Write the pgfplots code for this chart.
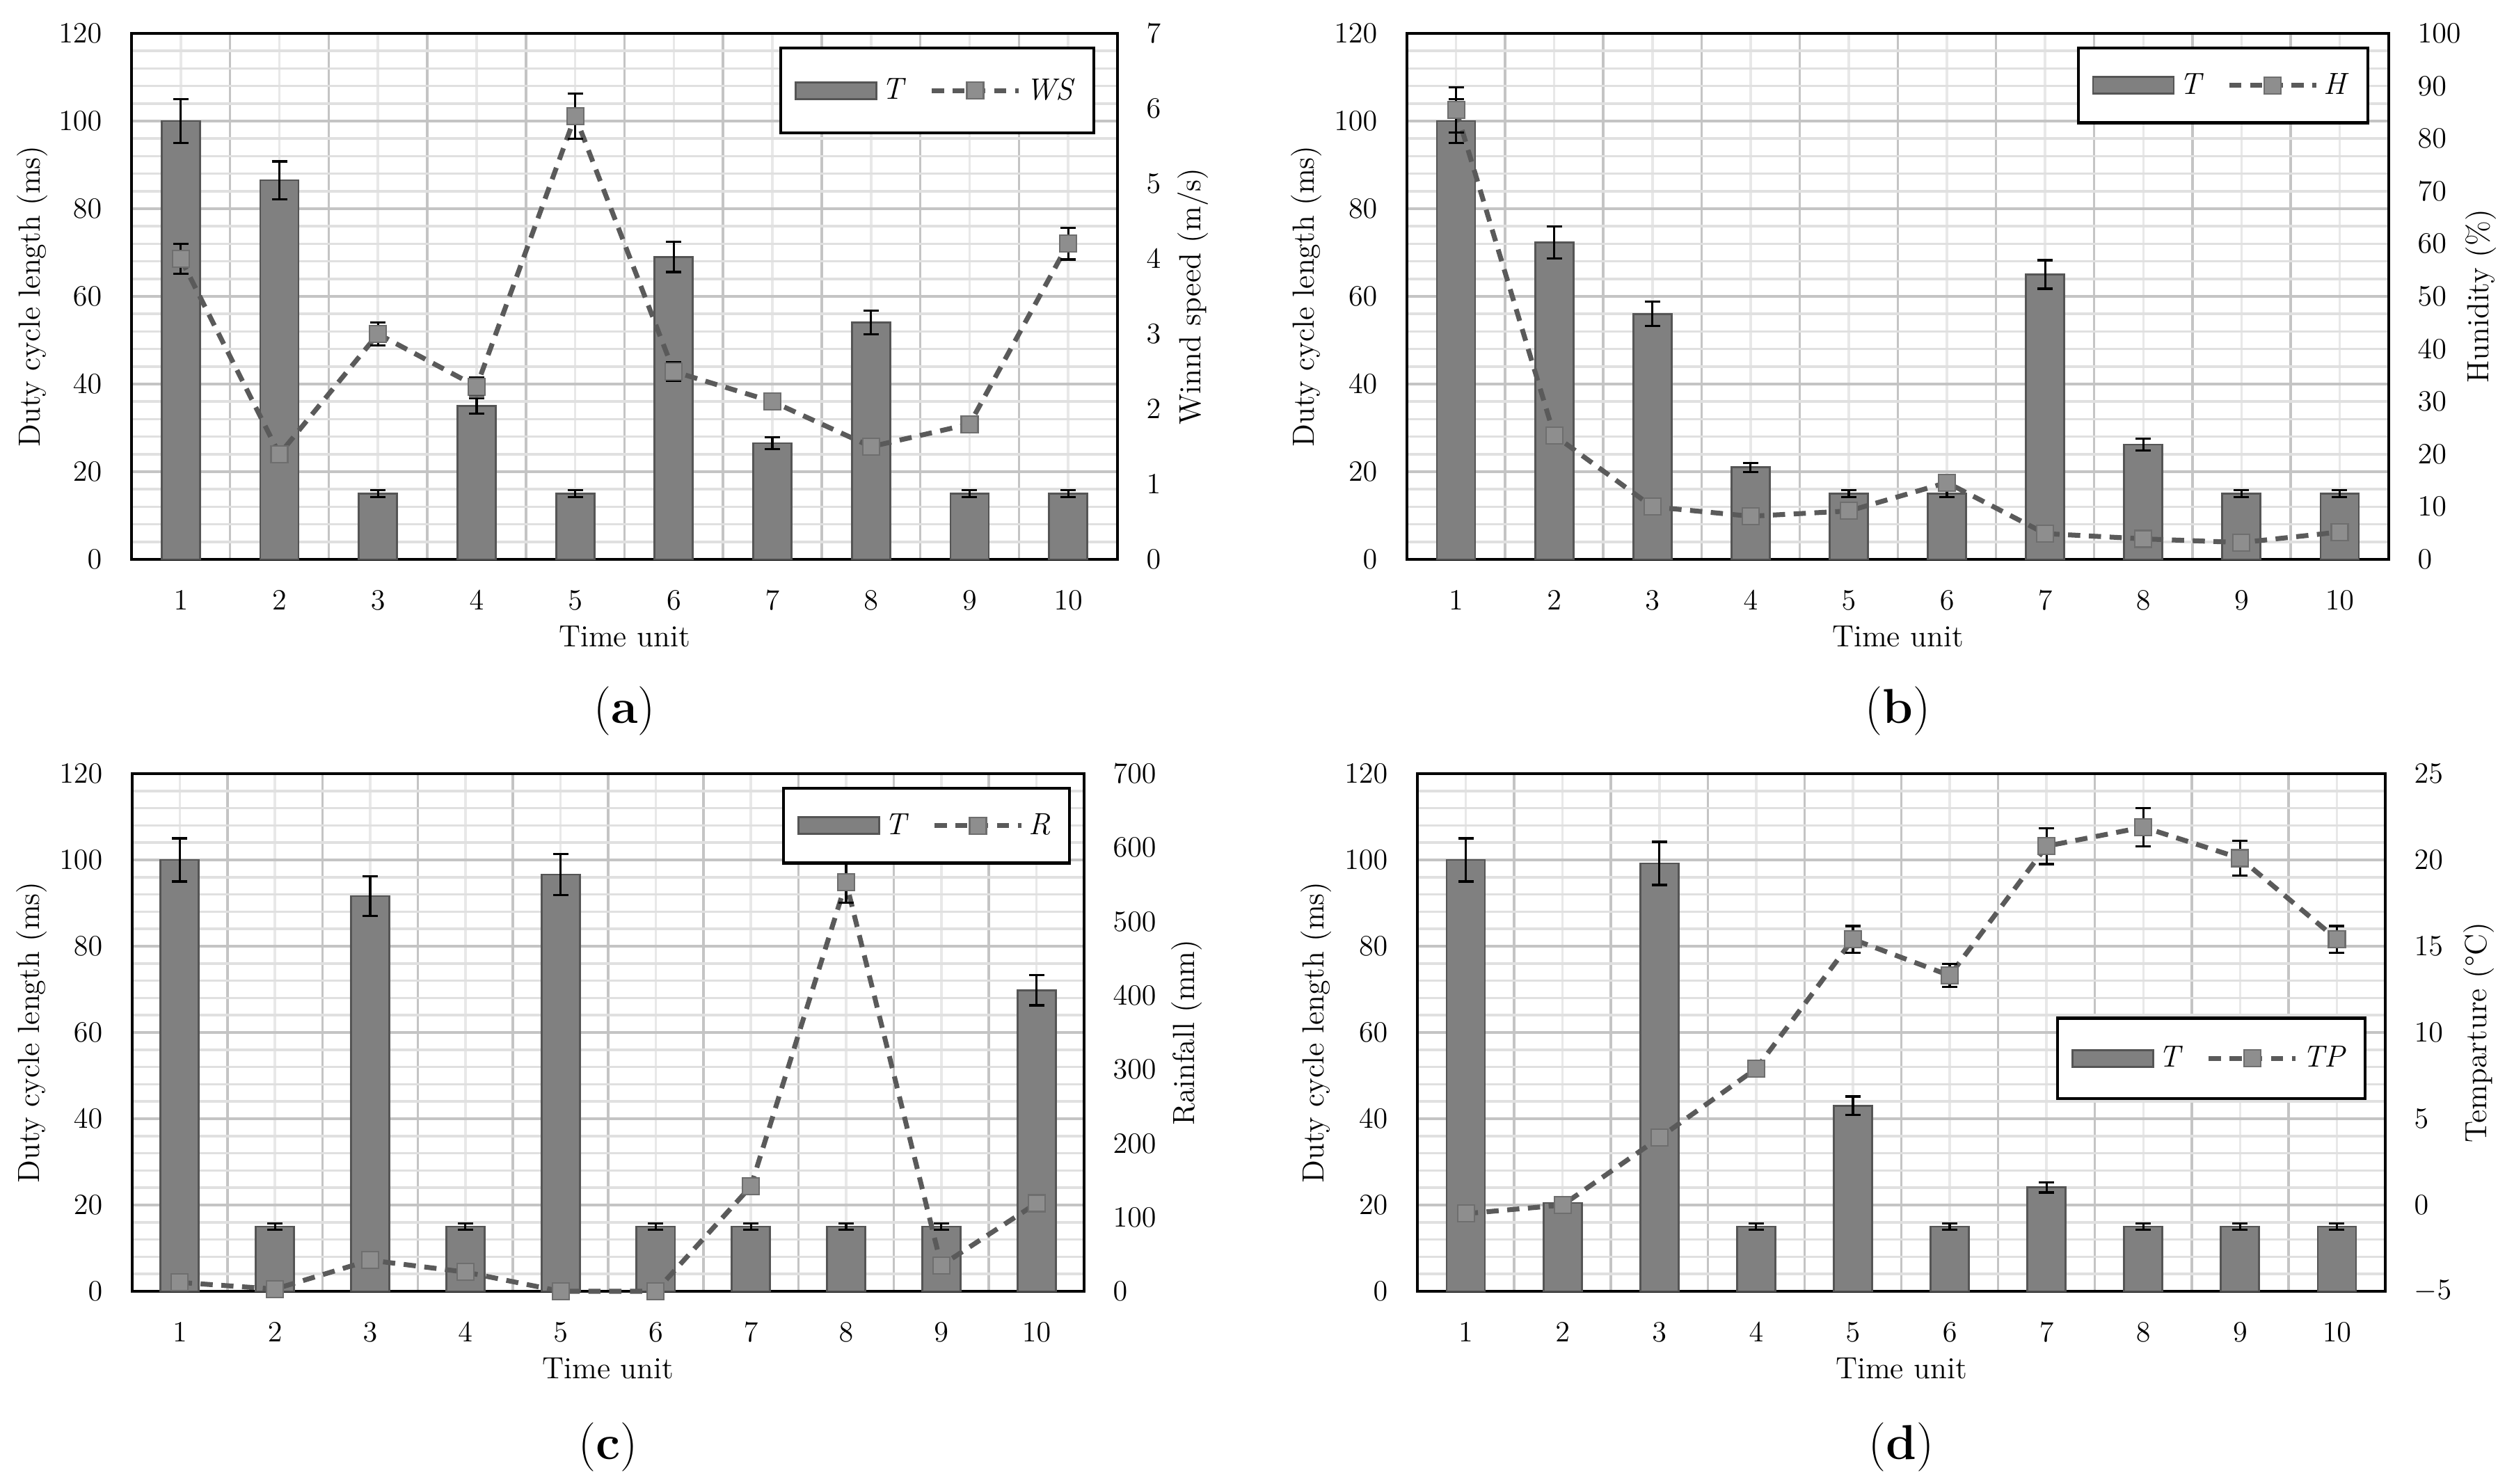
\documentclass[border=0pt]{standalone}
\usepackage{pgfplots}
\pgfplotsset{compat=1.18}
\definecolor{barfill}{HTML}{808080}
\definecolor{baredge}{HTML}{555555}
\definecolor{linec}{HTML}{5A5A5A}
\definecolor{markc}{HTML}{8E8E8E}
\definecolor{markedge}{HTML}{6E6E6E}
\definecolor{gmaj}{HTML}{C4C4C4}
\definecolor{gmin}{HTML}{E0E0E0}
\definecolor{gvmin}{HTML}{E8E8E8}
\newcommand{\fs}{\fontsize{12.5}{15}\selectfont}
\newcommand{\fl}{\fontsize{13.5}{16}\selectfont}
\newcommand{\fc}{\fontsize{20}{24}\selectfont}
\pgfplotsset{
  base/.style={
    scale only axis, clip=false,
    xmin=0.5, xmax=10.5,
    font=\fs,
    major tick length=0pt, minor tick length=0pt,
    axis line style={line width=1.3pt, black},
    tick label style={inner sep=0pt, font=\fs},
    label style={font=\fl, inner sep=0pt},
  },
  leftax/.style={base,
    ymin=0, ymax=120, ytick={0,20,...,120}, minor y tick num=4,
    xtick={1,...,10}, minor xtick={1.5,2.5,...,9.5},
    xmajorgrids, xminorgrids, ymajorgrids, yminorgrids,
    major x grid style={gvmin, line width=1pt},
    minor x grid style={gmaj, line width=1pt},
    major y grid style={gmaj, line width=1pt},
    minor y grid style={gmin, line width=1pt},
    xticklabel style={anchor=north, yshift=-4.5mm},
    yticklabel style={anchor=east, xshift=-4.2mm},
    xlabel={Time unit},
    every axis x label/.style={at={(rel axis cs:0.5,0)}, yshift=-11.1mm, anchor=center},
    ylabel={Duty cycle length (ms)},
    every axis y label/.style={at={(rel axis cs:0,0.5)}, xshift=-#1, rotate=90, anchor=center},
  },
  rightax/.style 2 args={base,
    axis x line=none, axis y line*=right,
    yticklabel style={anchor=west, xshift=4.1mm},
    ylabel={#2},
    every axis y label/.style={at={(rel axis cs:1,0.5)}, xshift=#1, rotate=90, anchor=center},
    legend columns=2,
    legend style={draw=black, line width=1.2pt, fill=white, inner xsep=2mm, inner ysep=3.6mm, font=\fs},
    /tikz/every even column/.append style={column sep=2.6mm},
  },
  barplot/.style={ybar, bar width=5.5mm, fill=barfill, draw=baredge, line width=0.8pt,
    error bars/.cd, y dir=both, y explicit,
    error bar style={black, line width=0.9pt},
    error mark options={rotate=90, black, line width=0.9pt, mark size=1.1mm}},
  lineplot/.style={draw=linec, line width=2pt, dash pattern=on 5pt off 3.5pt,
    mark=square*, mark size=1.2mm, mark options={solid, fill=markc, draw=markedge, line width=0.6pt},
    legend image code/.code={\draw[mark repeat=2,mark phase=2,##1] plot coordinates {(0mm,0mm) (6.25mm,0mm) (12.5mm,0mm)};},
    error bars/.cd, y dir=both, y explicit,
    error bar style={solid, black, line width=0.9pt},
    error mark options={rotate=90, solid, black, line width=0.9pt, mark size=1.1mm}},
  barlegend/.style={legend image code/.code={\draw[fill=barfill, draw=baredge, line width=0.8pt] (0mm,-1.2mm) rectangle (11.6mm,1.2mm);}},
}
\begin{document}
\begin{tikzpicture}
\path[use as bounding box] (0,0) rectangle (361.3mm,213.2mm);

% ---------------- (a)
\begin{axis}[leftax=14.2mm, at={(18.9mm,132.8mm)}, anchor=south west, width=141.7mm, height=75.6mm]
\addplot[barplot] coordinates {
(1,100) +- (0,5)
(2,86.5) +- (0,4.3)
(3,15) +- (0,0.75)
(4,35) +- (0,1.75)
(5,15) +- (0,0.75)
(6,69) +- (0,3.45)
(7,26.5) +- (0,1.3)
(8,54) +- (0,2.7)
(9,15) +- (0,0.75)
(10,15) +- (0,0.75)
};
\node[font=\fc] at (rel axis cs:0.5,0) [yshift=-21.8mm] {(\textbf{a})};
\end{axis}
\begin{axis}[rightax={10.9mm}{Winnd speed (m/s)}, at={(18.9mm,132.8mm)}, anchor=south west, width=141.7mm, height=75.6mm,
  ymin=0, ymax=7, ytick={0,1,...,7},
  legend style={at={(1,1)}, anchor=north east, xshift=-3.2mm, yshift=-1.9mm}]
\addlegendimage{barlegend}
\addlegendentry{\textit{T}}
\addplot[lineplot] coordinates {
(1,4.0) +- (0,0.2)
(2,1.4) +- (0,0.07)
(3,3.0) +- (0,0.15)
(4,2.3) +- (0,0.12)
(5,5.9) +- (0,0.3)
(6,2.5) +- (0,0.12)
(7,2.1) +- (0,0.1)
(8,1.5) +- (0,0.08)
(9,1.8) +- (0,0.09)
(10,4.2) +- (0,0.21)
};
\addlegendentry{\textit{WS}}
\end{axis}

% ---------------- (b)
\begin{axis}[leftax=14.4mm, at={(202.2mm,132.8mm)}, anchor=south west, width=141.1mm, height=75.6mm]
\addplot[barplot] coordinates {
(1,100) +- (0,5)
(2,72.3) +- (0,3.6)
(3,56) +- (0,2.8)
(4,21) +- (0,1.05)
(5,15) +- (0,0.75)
(6,15) +- (0,0.75)
(7,65) +- (0,3.25)
(8,26.2) +- (0,1.3)
(9,15) +- (0,0.75)
(10,15) +- (0,0.75)
};
\node[font=\fc] at (rel axis cs:0.5,0) [yshift=-21.8mm] {(\textbf{b})};
\end{axis}
\begin{axis}[rightax={13.3mm}{Hunidity (\%)}, at={(202.2mm,132.8mm)}, anchor=south west, width=141.1mm, height=75.6mm,
  ymin=0, ymax=100, ytick={0,10,...,100},
  legend style={at={(1,1)}, anchor=north east, xshift=-2.8mm, yshift=-1.9mm, inner ysep=2.9mm}]
\addlegendimage{barlegend}
\addlegendentry{\textit{T}}
\addplot[lineplot] coordinates {
(1,85.4) +- (0,4.3)
(2,23.6) +- (0,1.2)
(3,10.0) +- (0,0.5)
(4,8.2) +- (0,0.4)
(5,9.2) +- (0,0.46)
(6,14.6) +- (0,0.73)
(7,4.9) +- (0,0.25)
(8,3.9) +- (0,0.2)
(9,3.2) +- (0,0.16)
(10,5.2) +- (0,0.26)
};
\addlegendentry{\textit{H}}
\end{axis}

% ---------------- (c)
\begin{axis}[leftax=14.4mm, at={(19.0mm,27.6mm)}, anchor=south west, width=136.8mm, height=74.4mm]
\addplot[barplot] coordinates {
(1,100) +- (0,5)
(2,15) +- (0,0.75)
(3,91.6) +- (0,4.6)
(4,15) +- (0,0.75)
(5,96.6) +- (0,4.8)
(6,15) +- (0,0.75)
(7,15) +- (0,0.75)
(8,15) +- (0,0.75)
(9,15) +- (0,0.75)
(10,69.8) +- (0,3.5)
};
\node[font=\fc] at (rel axis cs:0.5,0) [yshift=-22.4mm] {(\textbf{c})};
\end{axis}
\begin{axis}[rightax={14.8mm}{Rainfall (mm)}, at={(19.0mm,27.6mm)}, anchor=south west, width=136.8mm, height=74.4mm,
  ymin=0, ymax=700, ytick={0,100,...,700},
  legend style={at={(1,1)}, anchor=north east, xshift=-1.9mm, yshift=-1.9mm, inner ysep=2.9mm}]
\addlegendimage{barlegend}
\addlegendentry{\textit{T}}
\addplot[lineplot] coordinates {
(1,12) +- (0,0.6)
(2,3) +- (0,0.15)
(3,42) +- (0,2.1)
(4,26) +- (0,1.3)
(5,0) +- (0,0)
(6,0) +- (0,0)
(7,142) +- (0,7.1)
(8,553) +- (0,27.7)
(9,35) +- (0,1.75)
(10,119) +- (0,5.95)
};
\addlegendentry{\textit{R}}
\end{axis}

% ---------------- (d)
\begin{axis}[leftax=14.5mm, at={(203.7mm,27.6mm)}, anchor=south west, width=139.1mm, height=74.4mm]
\addplot[barplot] coordinates {
(1,100) +- (0,5)
(2,20.5) +- (0,1.0)
(3,99.2) +- (0,5)
(4,15) +- (0,0.75)
(5,43) +- (0,2.15)
(6,15) +- (0,0.75)
(7,24.1) +- (0,1.2)
(8,15) +- (0,0.75)
(9,15) +- (0,0.75)
(10,15) +- (0,0.75)
};
\node[font=\fc] at (rel axis cs:0.5,0) [yshift=-22.4mm] {(\textbf{d})};
\end{axis}
\begin{axis}[rightax={13.5mm}{Temparture (\textdegree C)}, at={(203.7mm,27.6mm)}, anchor=south west, width=139.1mm, height=74.4mm,
  ymin=-5, ymax=25, ytick={-5,0,...,25},
  legend style={at={(1,0.45)}, anchor=east, xshift=-2.7mm, inner ysep=3.3mm}]
\addlegendimage{barlegend}
\addlegendentry{\textit{T}}
\addplot[lineplot] coordinates {
(1,-0.5) +- (0,0.03)
(2,0) +- (0,0)
(3,3.9) +- (0,0.2)
(4,7.9) +- (0,0.4)
(5,15.4) +- (0,0.77)
(6,13.3) +- (0,0.67)
(7,20.8) +- (0,1.04)
(8,21.9) +- (0,1.1)
(9,20.1) +- (0,1.0)
(10,15.4) +- (0,0.77)
};
\addlegendentry{\textit{TP}}
\end{axis}
\end{tikzpicture}
\end{document}
